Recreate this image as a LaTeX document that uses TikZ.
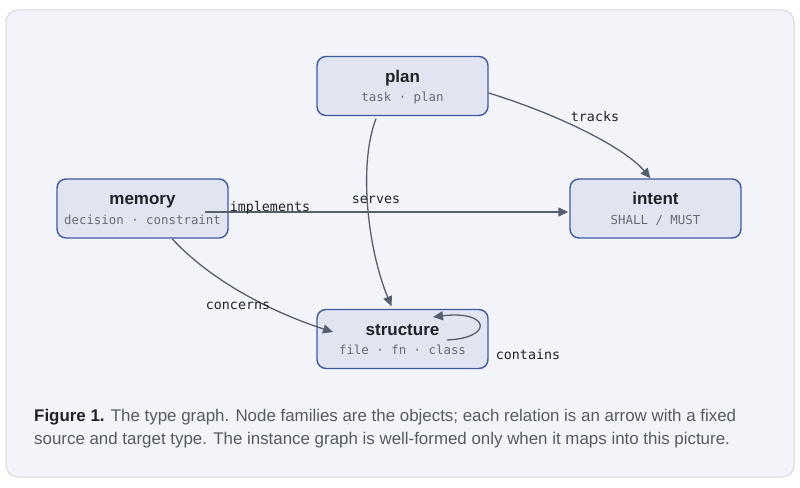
\documentclass[tikz,border=0pt]{standalone}
\usepackage{fontspec}
\setmainfont{Liberation Sans}
\newfontfamily\monof{DejaVu Sans Mono}
\usetikzlibrary{arrows.meta}
\definecolor{panelfill}{HTML}{F3F4F9}
\definecolor{paneldraw}{HTML}{D6D9E0}
\definecolor{nodefill}{HTML}{E1E5F2}
\definecolor{nodedraw}{HTML}{3F5A9E}
\definecolor{edgecol}{HTML}{575F6E}
\definecolor{subcol}{HTML}{666B75}
\definecolor{labcol}{HTML}{1F2328}
\definecolor{capcol}{HTML}{555A63}
\tikzset{
  typebox/.style={draw=nodedraw, fill=nodefill, line width=1.4pt, rounded corners=9pt,
    minimum width=171pt, minimum height=59pt, inner sep=0pt},
  ttl/.style={font=\fontsize{17}{20}\selectfont\bfseries, text=labcol, inner sep=0pt, anchor=base},
  sub/.style={font=\monof\fontsize{12.4}{15}\selectfont, text=subcol, inner sep=0pt, anchor=base},
  edge/.style={draw=edgecol, line width=1.3pt, -{Triangle[length=10pt,width=9pt]}},
  elab/.style={font=\monof\fontsize{13.3}{16}\selectfont, text=labcol, inner sep=0pt},
}
\begin{document}
\begin{tikzpicture}[x=1pt,y=-1pt]
\useasboundingbox (0,0) rectangle (800,487);
\fill[white] (0,0) rectangle (800,487);
\draw[paneldraw, fill=panelfill, line width=1pt, rounded corners=12pt] (6,10) rectangle (794,477);

% nodes
\node[typebox] (plan) at (402.5,86) {};
\node[ttl] (plant) at ([yshift=4pt]plan.center) {plan};
\node[sub] (plans) at ([yshift=-15.5pt]plan.center) {task · plan};

\node[typebox] (memory) at (142.5,208.5) {};
\node[ttl] (memoryt) at ([yshift=4pt]memory.center) {memory};
\node[sub] (memorys) at ([yshift=-15.5pt]memory.center) {decision · constraint};

\node[typebox] (intent) at (655.5,208.5) {};
\node[ttl] (intentt) at ([yshift=4pt]intent.center) {intent};
\node[sub] (intents) at ([yshift=-15.5pt]intent.center) {SHALL / MUST};

\node[typebox] (structure) at (402.5,339) {};
\node[ttl] (structuret) at ([yshift=4pt]structure.center) {structure};
\node[sub] (structures) at ([yshift=-15.5pt]structure.center) {file · fn · class};

% connector endpoints
\coordinate (trA) at ([yshift=-7pt]plan.east);
\coordinate (trB) at ([xshift=-5pt]intent.north);
\coordinate (seA) at ([xshift=-26.5pt,yshift=-2.5pt]plan.south);
\coordinate (seB) at ([xshift=-11pt,yshift=2.5pt]structure.north);
\coordinate (imA) at ([xshift=62.5pt,yshift=-3.5pt]memory.center);
\coordinate (imB) at ([xshift=-1pt,yshift=-3.5pt]intent.west);
\coordinate (coA) at ([xshift=29.5pt]memory.south);
\coordinate (coB) at ([xshift=-69.5pt,yshift=7pt]structure.center);
\coordinate (ctA) at ([xshift=44.5pt,yshift=-1pt]structure.center);
\coordinate (ctB) at ([xshift=30.5pt,yshift=22pt]structure.center);

\draw[edge] (trA) .. controls (560,115) and (625,148) .. (trB);
\draw[edge] (seA) .. controls (358,165) and (368,250) .. (seB);
\draw[edge] (imA) -- (imB);
\draw[edge] (coA) .. controls (215,285) and (280,315) .. (coB);
\draw[edge] (ctA) .. controls (494,338) and (490,310) .. (ctB);

% labels
\node[elab] (ltracks) at (595,117) {tracks};
\node[elab] (lserves) at (376,200) {serves};
\node[elab] (limpl) at (270,208) {implements};
\node[elab] (lconc) at (238,306) {concerns};
\node[elab] (lcont) at (528,355) {contains};

% caption
\node[anchor=base west, align=left, inner sep=0pt, text=capcol,
  font=\fontsize{16.9}{23}\selectfont] (caption) at (34,444)
  {{\color{labcol}\bfseries Figure 1.} The type graph. Node families are the objects; each relation is an arrow with a fixed\\
   source and target type. The instance graph is well-formed only when it maps into this picture.};
\end{tikzpicture}
\end{document}
